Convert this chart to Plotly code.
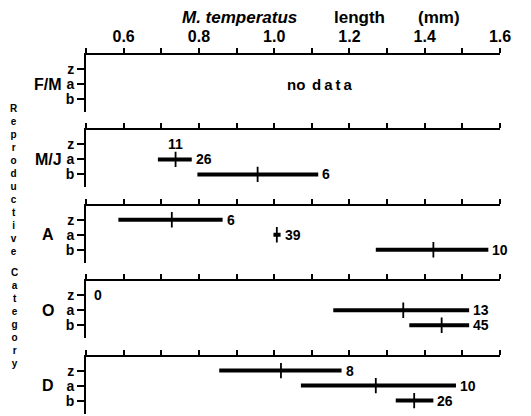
import plotly.graph_objects as go

# ---- data ----
panels = ["F/M", "M/J", "A", "O", "D"]
rows = ["z", "a", "b"]

bar_panel = ["M/J", "M/J", "A", "A", "A", "O", "O", "D", "D", "D"]
bar_row = ["a", "b", "z", "a", "b", "a", "b", "z", "a", "b"]
bar_low = [0.691, 0.796, 0.586, 0.998, 1.270, 1.157, 1.359, 0.854, 1.071, 1.323]
bar_mean = [0.738, 0.956, 0.728, 1.007, 1.423, 1.343, 1.445, 1.018, 1.270, 1.372]
bar_high = [0.781, 1.117, 0.863, 1.017, 1.569, 1.518, 1.518, 1.179, 1.483, 1.423]
bar_n = [26, 6, 6, 39, 10, 13, 45, 8, 10, 26]

# rows with a count but no bar drawn
nobar_panel = ["M/J", "O"]
nobar_row = ["z", "z"]
nobar_mean = [0.739, None]
nobar_n = [11, 0]

nodata_panels = ["F/M"]

tick_vals = [0.5, 0.6, 0.7, 0.8, 0.9, 1.0, 1.1, 1.2, 1.3, 1.4, 1.5, 1.6]
tick_text = ["", "0.6", "", "0.8", "", "1.0", "", "1.2", "", "1.4", "", "1.6"]

x_title_words = ["<i>M. temperatus</i>", "length", "(mm)"]
y_title_words = ["Reproductive", "Category"]

# ---- layout geometry (pixels) ----
W, H = 531, 416
ML, MR, MT, MB = 86, 31, 55, 2
PH = H - MT - MB
PW = W - ML - MR
panel_step = 75.4
panel_h = 57.0
row_px = 15.0
row_off = 14.0

FONT = "Liberation Sans, Arial, Helvetica, sans-serif"

def py2paper(py):
    return 1 - (py - MT) / PH

def px2paper(px):
    return (px - ML) / PW

fig = go.Figure()
layout = dict(
    width=W, height=H, autosize=False,
    margin=dict(l=ML, r=MR, t=MT, b=MB, pad=0, autoexpand=False),
    paper_bgcolor="white", plot_bgcolor="white",
    showlegend=False,
    font=dict(family=FONT, color="black"),
)
annotations = []
row_idx = {r: i + 1 for i, r in enumerate(rows)}
y_lo = 1 - row_off / row_px
y_hi = y_lo + panel_h / row_px

for i, p in enumerate(panels):
    k = "" if i == 0 else str(i + 1)
    top = MT + panel_step * i
    bot = top + panel_h
    layout["xaxis" + k] = dict(
        range=[0.5, 1.6], side="top", anchor="y" + k,
        showline=True, linecolor="black", linewidth=2,
        ticks="outside", ticklen=5, tickwidth=1.5, tickcolor="black",
        tickvals=tick_vals, ticktext=tick_text,
        showticklabels=(i == 0),
        tickfont=dict(size=16, family=FONT, weight="bold"),
        showgrid=False, zeroline=False, fixedrange=True, automargin=False,
    )
    layout["yaxis" + k] = dict(
        domain=[max(py2paper(bot), 0), min(py2paper(top), 1)],
        range=[y_hi, y_lo], anchor="x" + k,
        showline=True, linecolor="black", linewidth=2,
        ticks="outside", ticklen=7, tickwidth=1.5, tickcolor="black",
        tickvals=[1, 2, 3], ticktext=rows,
        tickfont=dict(size=14, family=FONT, weight="bold"),
        showgrid=False, zeroline=False, fixedrange=True, automargin=False,
    )
    annotations.append(dict(
        text=p, xref="paper", yref="y" + k, x=px2paper(48), y=2,
        xanchor="center", yanchor="middle", showarrow=False,
        font=dict(size=16, family=FONT, weight="bold"),
    ))
    if p in nodata_panels:
        annotations.append(dict(
            text="no", xref="x" + k, yref="y" + k,
            x=1.058, y=2, xanchor="center", yanchor="middle", showarrow=False,
            font=dict(size=15, family=FONT, weight="bold"),
        ))
        annotations.append(dict(
            text="d&#8201;a&#8201;t&#8201;a", xref="x" + k, yref="y" + k,
            x=1.154, y=2, xanchor="center", yanchor="middle", showarrow=False,
            font=dict(size=15, family=FONT, weight="bold"),
        ))
    # invisible trace so the axes are drawn
    fig.add_trace(go.Scatter(x=[None], y=[None], xaxis="x" + k, yaxis="y" + k,
                             mode="markers", hoverinfo="skip"))

axis_of = {p: ("" if i == 0 else str(i + 1)) for i, p in enumerate(panels)}

for p, r, lo, m, hi, n in zip(bar_panel, bar_row, bar_low, bar_mean, bar_high, bar_n):
    k = axis_of[p]
    yv = row_idx[r]
    fig.add_trace(go.Scatter(x=[lo, hi], y=[yv, yv], xaxis="x" + k, yaxis="y" + k,
                             mode="lines", line=dict(color="black", width=4),
                             hoverinfo="skip"))
    fig.add_trace(go.Scatter(x=[m], y=[yv], xaxis="x" + k, yaxis="y" + k,
                             mode="markers",
                             marker=dict(symbol="line-ns", size=11,
                                         line=dict(color="black", width=1.8)),
                             hoverinfo="skip"))
    annotations.append(dict(
        text=str(n), xref="x" + k, yref="y" + k, x=hi, y=yv,
        xanchor="left", yanchor="middle", xshift=2, showarrow=False,
        font=dict(size=14, family=FONT, weight="bold"),
    ))

for p, r, m, n in zip(nobar_panel, nobar_row, nobar_mean, nobar_n):
    k = axis_of[p]
    yv = row_idx[r]
    if m is None:
        annotations.append(dict(
            text=str(n), xref="x" + k, yref="y" + k, x=0.5, y=yv,
            xanchor="left", yanchor="middle", xshift=6, showarrow=False,
            font=dict(size=14, family=FONT, weight="bold"),
        ))
    else:
        annotations.append(dict(
            text=str(n), xref="x" + k, yref="y" + k, x=m, y=yv,
            xanchor="center", yanchor="middle", showarrow=False,
            font=dict(size=14, family=FONT, weight="bold"),
        ))

# x title, word by word (wide letter spacing in the original)
for word, cx in zip(x_title_words, [239, 359, 438.5]):
    annotations.append(dict(
        text=word, xref="paper", yref="paper", x=px2paper(cx), y=py2paper(17.5),
        xanchor="center", yanchor="middle", showarrow=False,
        font=dict(size=17, family=FONT, weight="bold"),
    ))

# stacked vertical y title
for word, cy in zip(y_title_words, [180, 317.5]):
    annotations.append(dict(
        text="<br>".join(word), xref="paper", yref="paper",
        x=px2paper(14), y=py2paper(cy),
        xanchor="center", yanchor="middle", align="center", showarrow=False,
        font=dict(size=10, family=FONT, weight="bold"),
    ))

layout["annotations"] = annotations
fig.update_layout(**layout)
fig.write_html("out.html", config={"displayModeBar": False},
               post_script="document.body.style.margin='0px';")
